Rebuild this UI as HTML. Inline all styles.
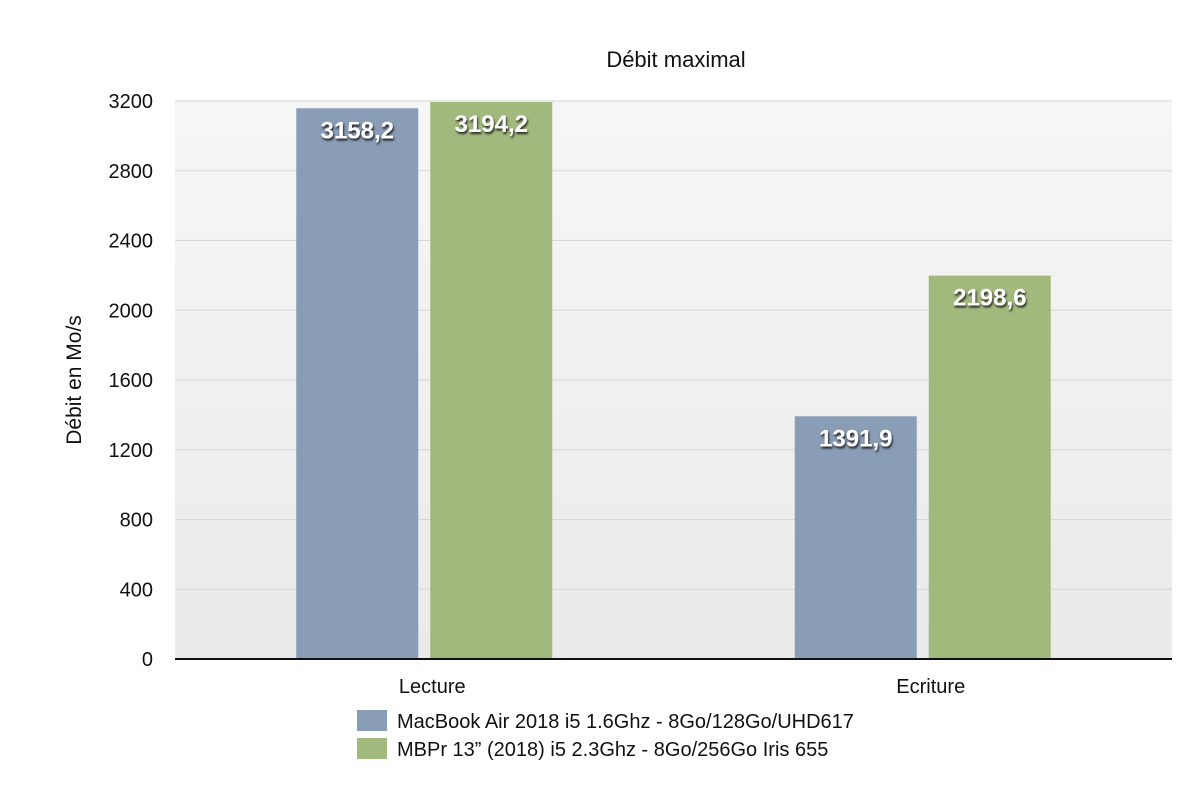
<!DOCTYPE html>
<html><head><meta charset="utf-8"><style>
body{margin:0;background:#fff;font-family:"Liberation Sans",sans-serif}
</style></head><body>
<svg width="1200" height="797" xmlns="http://www.w3.org/2000/svg">
<defs><linearGradient id="bg" x1="0" y1="0" x2="0" y2="1"><stop offset="0" stop-color="#f6f6f6"/><stop offset="1" stop-color="#eaeaea"/></linearGradient>
<filter id="sh" x="-20%" y="-20%" width="140%" height="160%"><feDropShadow dx="1" dy="2" stdDeviation="1" flood-color="#000" flood-opacity="0.8"/></filter></defs>
<rect x="175" y="101" width="997" height="558" fill="url(#bg)"/>
<g id="grid"></g><g id="bars"></g><g id="labels"></g>
<line x1="175" y1="659" x2="1172" y2="659" stroke="#111" stroke-width="2"/>
<text x="676" y="67" font-size="22" text-anchor="middle" fill="#111">Débit maximal</text>
<text transform="translate(81,380) rotate(-90)" font-size="21" text-anchor="middle" fill="#111">Débit en Mo/s</text>
<rect x="357" y="710" width="30" height="21" fill="#8a9db6"/>
<text x="397" y="728" font-size="20" fill="#111">MacBook Air 2018 i5 1.6Ghz - 8Go/128Go/UHD617</text>
<rect x="357" y="738" width="30" height="21" fill="#a2b97e"/>
<text x="397" y="756" font-size="20" fill="#111">MBPr 13” (2018) i5 2.3Ghz - 8Go/256Go Iris 655</text>
</svg>
<script>
const categories=["Lecture","Ecriture"];
const seriesAir=[3158.2,1391.9];
const seriesPro=[3194.2,2198.6];
const yTicks=[0,400,800,1200,1600,2000,2400,2800,3200];
const NS="http://www.w3.org/2000/svg";
const x0=175,x1=1172,y0=659,y1=101,yMax=3200;
const y=v=>y0-(v/yMax)*(y0-y1);
const catW=(x1-x0)/categories.length;
const grid=document.getElementById('grid'),bars=document.getElementById('bars'),labels=document.getElementById('labels'),svg=document.querySelector('svg');
function mk(t,a,p){const e=document.createElementNS(NS,t);for(const k in a)e.setAttribute(k,a[k]);p.appendChild(e);return e;}
yTicks.forEach(v=>{
 if(v>0){const l=mk('line',{x1:x0,x2:x1,y1:y(v),y2:y(v),stroke:'#d6d6d6','stroke-width':1},grid);
 
 }
 const t=mk('text',{x:153,y:y(v)+7,'font-size':20,'text-anchor':'end',fill:'#111'},svg);
 t.textContent=v;
 
 
});
const fmt=v=>v.toFixed(1).replace('.',',');
const bw=122,gap=12;
categories.forEach((c,i)=>{
 const cx=x0+catW*(i+0.5);
 [[seriesAir,'#8a9db6','macbook-air'],[seriesPro,'#a2b97e','mbpr']].forEach((s,j)=>{
  const bx=cx-bw-gap/2+j*(bw+gap);const v=s[0][i];
  const r=mk('rect',{x:bx,y:y(v),width:bw,height:y0-y(v),fill:s[1]},bars);
  
  
  const t=mk('text',{x:bx+bw/2,y:y(v)+30,'font-size':24,'font-weight':'bold','text-anchor':'middle',fill:'#fff',filter:'url(#sh)'},labels);
  t.textContent=fmt(v);
  
  
 });
 const t=mk('text',{x:cx+8,y:693,'font-size':20,'text-anchor':'middle',fill:'#111'},svg);
 t.textContent=c;
 
 
});
</script>
</body></html>
